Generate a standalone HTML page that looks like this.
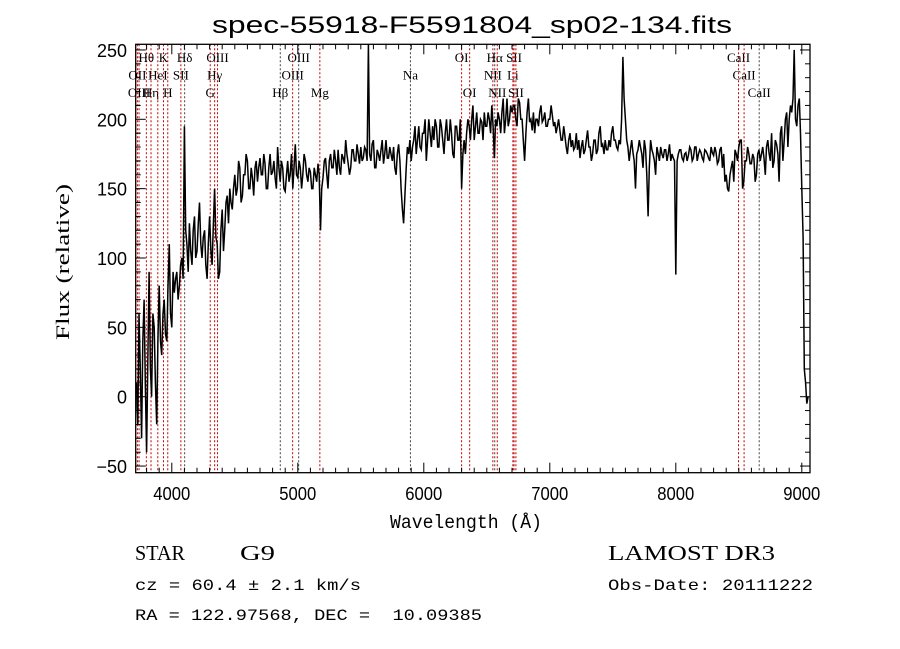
<!DOCTYPE html>
<html><head><meta charset="utf-8"><style>
html,body{margin:0;padding:0;background:#fff;}
svg{display:block;font-family:"Liberation Sans",sans-serif;}
.lbl{font-family:"Liberation Serif",serif;font-size:13px;fill:#000;}
</style></head><body>
<svg id="chart" width="900" height="649" viewBox="0 0 900 649" xmlns="http://www.w3.org/2000/svg">
<rect width="900" height="649" fill="#fff"/>
<text x="472" y="33" font-size="24" text-anchor="middle" textLength="520" lengthAdjust="spacingAndGlyphs">spec-55918-F5591804_sp02-134.fits</text>
<g id="lines"></g>
<g id="spec"></g>
<rect x="135.7" y="44.3" width="674.3" height="428.4" fill="none" stroke="#000" stroke-width="1.3"/>
<g id="ticks"></g>
<text x="466" y="528" font-size="19" text-anchor="middle" font-family="Liberation Mono, monospace" textLength="152" lengthAdjust="spacingAndGlyphs">Wavelength (Å)</text>
<text transform="translate(69,262) rotate(-90)" font-size="19" text-anchor="middle" font-family="Liberation Serif, serif" textLength="156" lengthAdjust="spacingAndGlyphs">Flux (relative)</text>
<text x="135" y="560" font-size="21" font-family="Liberation Serif, serif" textLength="50" lengthAdjust="spacingAndGlyphs">STAR</text>
<text x="240" y="560" font-size="21" font-family="Liberation Serif, serif" textLength="35" lengthAdjust="spacingAndGlyphs">G9</text>
<text x="135" y="590" font-size="16" font-family="Liberation Mono, monospace" textLength="226" lengthAdjust="spacingAndGlyphs">cz = 60.4 ± 2.1 km/s</text>
<text x="135" y="620" font-size="16" font-family="Liberation Mono, monospace" textLength="347" lengthAdjust="spacingAndGlyphs" xml:space="preserve">RA = 122.97568, DEC =  10.09385</text>
<text x="608" y="560" font-size="21" font-family="Liberation Serif, serif" textLength="167" lengthAdjust="spacingAndGlyphs">LAMOST DR3</text>
<text x="608" y="590" font-size="16" font-family="Liberation Mono, monospace" textLength="205" lengthAdjust="spacingAndGlyphs">Obs-Date: 20111222</text>
</svg>
<script>
const waveStart = 3720;
const waveStep = 10;
const flux = [
10,-20,60,20,-30,40,70,10,-40,30,90,20,0,60,50,10,-20,40,80,40,
30,60,70,45,40,80,110,60,50,90,75,85,90,70,80,95,100,85,195,120,
110,90,125,105,95,120,130,100,105,125,140,110,100,115,120,95,85,110,130,105,
95,125,150,115,110,85,90,120,135,105,120,140,145,125,150,140,135,150,160,145,
150,170,165,140,145,160,160,175,170,150,150,165,158,145,165,170,155,165,172,160,
160,175,168,150,150,165,175,160,162,170,158,150,180,165,155,170,165,150,148,160,
170,155,160,175,150,165,182,160,158,170,165,150,160,175,170,160,155,165,162,150,
150,165,160,155,168,160,120,150,158,170,172,160,150,170,175,165,165,178,170,160,
178,165,160,175,172,168,185,175,168,160,165,178,178,170,170,182,175,168,180,170,
172,180,178,170,255,175,170,182,185,165,165,178,175,170,178,185,168,175,185,172,
172,180,175,170,180,165,160,175,182,170,150,135,125,145,165,180,175,185,170,180,
185,195,175,185,195,180,178,190,190,200,170,185,200,190,180,195,185,200,195,180,
180,200,195,185,175,190,200,185,185,200,190,175,172,195,195,185,185,200,150,175,
185,175,190,200,195,185,200,210,185,195,205,190,190,200,198,185,205,195,195,205,
200,190,210,195,172,200,195,205,200,190,205,215,190,200,215,195,200,210,205,210,
210,200,195,215,212,200,200,185,170,190,205,215,198,200,192,205,190,200,200,195,
205,210,198,200,205,195,195,200,200,210,203,195,198,190,195,200,192,185,185,195,
188,180,175,185,190,180,185,178,180,190,178,185,172,180,185,175,178,185,192,180,
180,170,175,185,185,175,178,190,195,180,182,175,185,178,178,185,180,190,195,185,
185,180,178,185,182,200,245,215,200,185,180,170,178,185,176,170,150,175,178,185,
180,175,165,185,178,160,130,165,185,178,175,170,160,180,175,170,180,175,172,178,
178,170,175,182,170,175,172,170,88,170,175,178,178,172,170,175,176,170,174,180,
178,170,172,180,180,170,175,178,176,172,170,178,177,175,172,170,180,176,174,180,
176,168,170,178,180,165,175,155,160,150,148,160,165,170,155,178,175,170,180,185,
185,150,155,170,170,180,175,168,168,175,172,155,160,175,178,170,175,180,172,160,
180,185,176,170,190,165,170,185,182,175,155,190,195,170,185,200,205,180,200,210,
205,215,250,200,195,210,215,190,150,115,20,10,-5,0
];
const lineNames = ["OII","Hθ","OIII","Hη","HeI","K","H","SII","Hδ","G","Hγ","OIII","Hβ","OIII","OIII","Mg","Na","OI","OI","NII","Hα","NII","Li","SII","SII","CaII","CaII","CaII"];
const lineWaves = [3727,3798,3740,3835,3889,3934,3968,4072,4102,4305,4340,4363,4861,4959,5007,5175,5894,6300,6364,6548,6563,6583,6707,6716,6731,8498,8542,8662];
const lineRows = [1,0,2,2,1,0,2,1,0,2,1,0,2,1,0,2,1,0,2,1,0,2,1,0,2,0,1,2];
const lineBlack = [0,0,0,0,0,0,0,0,1,0,0,0,1,0,1,0,1,0,0,0,1,0,0,0,0,0,0,1];
const xTicks = [4000,5000,6000,7000,8000,9000];
const yTicks = [-50,0,50,100,150,200,250];

const NS = "http://www.w3.org/2000/svg";
const L = 135.7, R = 810, T = 44.3, B = 472.7;
function xs(w){ return 171.8 + (w - 4000) * 0.126; }
function ys(v){ return 396.7 - v * 1.387; }
function mk(tag, attrs, parent){
  const e = document.createElementNS(NS, tag);
  for (const k in attrs) e.setAttribute(k, attrs[k]);
  parent.appendChild(e);
  return e;
}
const gl = document.getElementById('lines');
const gs = document.getElementById('spec');
const gt = document.getElementById('ticks');

lineWaves.forEach((w, i) => {
  const x = xs(w);
  const ln = mk('line', {x1:x, x2:x, y1:T, y2:B, stroke: lineBlack[i] ? '#444' : '#c00000', 'stroke-width':1, 'stroke-dasharray':'2,2'}, gl);
  
  
  const t = mk('text', {x:x, y:62 + lineRows[i]*17.5, 'text-anchor':'middle', class:'lbl'}, gl);
  t.textContent = lineNames[i];
  
  
});

let d = '';
flux.forEach((v, i) => {
  const x = xs(waveStart + i * waveStep);
  let y = Math.max(T, Math.min(B, ys(v)));
  d += (i ? 'L' : 'M') + x.toFixed(1) + ',' + y.toFixed(1);
});
const p = mk('path', {d:d, fill:'none', stroke:'#000', 'stroke-width':1.5, 'stroke-linejoin':'miter'}, gs);



for (let w = 3800; w <= 9000; w += 100) {
  const x = xs(w);
  const major = w % 1000 === 0;
  const len = major ? 10 : 5;
  mk('line', {x1:x, x2:x, y1:B, y2:B-len, stroke:'#000'}, gt);
  mk('line', {x1:x, x2:x, y1:T, y2:T+len, stroke:'#000'}, gt);
}
xTicks.forEach(w => {
  const t = mk('text', {x:xs(w), y:500, 'text-anchor':'middle', 'font-size':18, textLength:37, lengthAdjust:'spacingAndGlyphs'}, gt);
  t.textContent = w;
  
  
});
for (let v = -50; v <= 250; v += 10) {
  const y = ys(v);
  const len = v % 50 === 0 ? 10 : 5;
  mk('line', {x1:L, x2:L+len, y1:y, y2:y, stroke:'#000'}, gt);
  mk('line', {x1:R, x2:R-len, y1:y, y2:y, stroke:'#000'}, gt);
}
yTicks.forEach(v => {
  const t = mk('text', {x:127, y:ys(v)+7, 'text-anchor':'end', 'font-size':18}, gt);
  t.textContent = v < 0 ? '\u2212' + Math.abs(v) : v;
  
  
});
</script>
</body></html>
